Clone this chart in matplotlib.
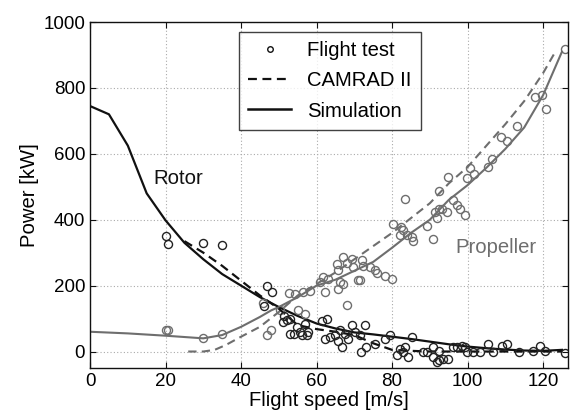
import numpy as np
import matplotlib
matplotlib.use("Agg")
import matplotlib.pyplot as plt

plt.rcParams["font.family"] = ["Liberation Sans", "DejaVu Sans"]

# simulation / CAMRAD curves (speed [m/s], power [kW])
rotor_sim_x = [0, 5, 10, 15, 20, 25, 30, 35, 40, 45, 50, 55, 60, 65, 70, 75, 80, 85, 90, 95, 100, 105, 110, 115, 120, 125]
rotor_sim_y = [745, 720, 625, 480, 398, 330, 280, 235, 200, 165, 135, 108, 85, 70, 58, 52, 45, 38, 30, 22, 15, 10, 6, 3, 2, 5]

rotor_cam_x = [25, 30, 35, 40, 45, 50, 55, 60, 65, 70, 75, 80, 85, 90, 100, 110, 120, 125]
rotor_cam_y = [335, 300, 260, 215, 170, 130, 80, 68, 60, 50, 25, 5, 2, 0, 0, 0, 0, 0]

prop_sim_x = [0, 10, 20, 30, 35, 40, 45, 48, 50, 55, 60, 65, 70, 75, 80, 85, 90, 95, 100, 105, 110, 115, 120, 125]
prop_sim_y = [60, 55, 48, 40, 50, 75, 105, 125, 135, 165, 200, 218, 245, 272, 315, 360, 400, 460, 505, 558, 615, 680, 778, 910]

prop_cam_x = [26, 30, 33, 36, 40, 45, 50, 55, 60, 65, 70, 75, 80, 85, 90, 95, 100, 105, 110, 115, 120, 123]
prop_cam_y = [0, 0, 5, 20, 45, 75, 120, 170, 205, 240, 280, 320, 360, 405, 450, 510, 560, 625, 690, 760, 845, 905]

# flight test points
prop_test_x = [20.1, 20.7, 29.9, 34.9, 45.9, 46.8, 47.9, 50.3, 52.8, 54.3, 56.5, 58.3, 55.0, 57.0,
               60.9, 61.8, 63.1, 62.3, 65.8, 66.2, 67.1, 65.4, 65.8, 67.1, 69.3, 68.0, 69.7, 72.0,
               72.4, 74.2, 75.5, 76.1, 78.1, 79.9, 71.1, 71.5, 68.0, 80.2, 82.3, 83.0, 82.1, 83.9,
               85.2, 85.5, 83.4, 89.2, 90.9, 91.4, 91.8, 92.3, 93.2, 94.5, 96.2, 97.1, 98.0, 99.3,
               92.3, 94.9, 99.8, 100.7, 101.7, 105.5, 106.4, 108.8, 110.4, 113.2, 117.9, 119.7, 120.8, 125.8]
prop_test_y = [64, 64, 40, 52, 148, 49, 64, 125, 177, 175, 180, 185, 125, 115,
               211, 226, 221, 180, 191, 211, 206, 266, 246, 287, 282, 268, 256, 277,
               261, 256, 246, 238, 228, 221, 218, 216, 140, 388, 378, 368, 353, 353,
               347, 335, 462, 380, 340, 423, 406, 434, 432, 423, 459, 444, 434, 415,
               486, 530, 527, 557, 540, 560, 584, 650, 639, 685, 773, 778, 735, 917]

rotor_test_x = [20.1, 20.7, 29.9, 34.9, 47.0, 48.1, 46.1, 51.4, 52.1, 51.2, 53.0, 54.0, 54.7, 53.0,
                55.6, 57.0, 57.4, 56.1, 57.8, 61.4, 62.7, 62.3, 63.6, 64.9, 65.8, 66.7, 66.2, 67.5,
                68.4, 69.3, 70.2, 71.5, 72.8, 71.9, 73.2, 75.5, 78.1, 79.5, 85.2, 82.1, 83.0, 81.2,
                84.3, 83.4, 88.3, 89.2, 90.9, 90.9, 92.3, 91.8, 93.6, 94.9, 92.3, 96.2, 97.1, 98.5,
                99.3, 99.8, 101.5, 103.3, 105.5, 106.8, 109.1, 110.4, 113.5, 117.4, 119.2, 120.5, 125.8]
rotor_test_y = [350, 325, 330, 322, 199, 182, 137, 109, 96, 89, 54, 54, 74, 99,
                59, 84, 49, 49, 59, 94, 99, 39, 43, 49, 33, 13, 64, 54,
                39, 79, 59, 49, 79, -2, 13, 23, 39, 49, 43, 8, -2, -12,
                -17, 13, -2, -2, 13, -17, -27, -33, -22, -22, 3, 13, 13, 18,
                13, -2, -2, -2, 23, -2, 18, 23, -2, 3, 18, 3, -5]

x_ticks = [0, 20, 40, 60, 80, 100, 120]
y_ticks = [0, 200, 400, 600, 800, 1000]

BLACK = "#111111"
GRAY = "#6e6e6e"
FS_TICK = 13.5
FS = 14.6

fig = plt.figure(figsize=(5.7, 4.16), dpi=100)
ax = fig.add_axes([0.158, 0.1154, 0.8385, 0.8316])

dash = (0, (4, 2.5))
ax.plot(prop_sim_x, prop_sim_y, color=GRAY, lw=1.5)
ax.plot(prop_cam_x, prop_cam_y, color=GRAY, lw=1.5, linestyle=dash)
ax.plot(rotor_sim_x, rotor_sim_y, color=BLACK, lw=1.6)
ax.plot(rotor_cam_x, rotor_cam_y, color=BLACK, lw=1.6, linestyle=dash)
ax.plot(prop_test_x, prop_test_y, "o", mfc="none", mec=GRAY, ms=5.8, mew=1.0)
ax.plot(rotor_test_x, rotor_test_y, "o", mfc="none", mec="#222222", ms=5.8, mew=1.0)

ax.text(16.7, 524, "Rotor", fontsize=FS, color=BLACK, va="center", ha="left")
ax.text(96.7, 315, "Propeller", fontsize=FS, color=GRAY, va="center", ha="left")

h1, = ax.plot([], [], "o", mfc="none", mec=BLACK, ms=4, mew=1.0)
h2, = ax.plot([], [], color=BLACK, lw=1.6, linestyle=dash)
h3, = ax.plot([], [], color=BLACK, lw=1.8)
leg = ax.legend([h1, h2, h3], ["Flight test", "CAMRAD II", "Simulation"],
                loc="upper left", bbox_to_anchor=(0.312, 0.971), borderaxespad=0,
                fontsize=FS, frameon=True, fancybox=False, handlelength=2.1,
                labelspacing=0.55, borderpad=0.45, handletextpad=0.8)
leg.get_frame().set_edgecolor(BLACK)
leg.get_frame().set_linewidth(1.0)

ax.set_xlim(0, 126.6)
ax.set_ylim(-50, 1000)
ax.set_xticks(x_ticks)
ax.set_yticks(y_ticks)
ax.tick_params(direction="in", top=True, right=True, labelsize=FS_TICK, length=4, color=BLACK)
ax.grid(True, color="#aaaaaa", linestyle=(0, (1, 2)), linewidth=0.8)
for s in ax.spines.values():
    s.set_linewidth(1.0)
    s.set_color(BLACK)
ax.set_xlabel("Flight speed [m/s]", fontsize=FS, labelpad=1)
ax.set_ylabel("Power [kW]", fontsize=FS, labelpad=3)

fig.savefig("out.png", dpi=100)
